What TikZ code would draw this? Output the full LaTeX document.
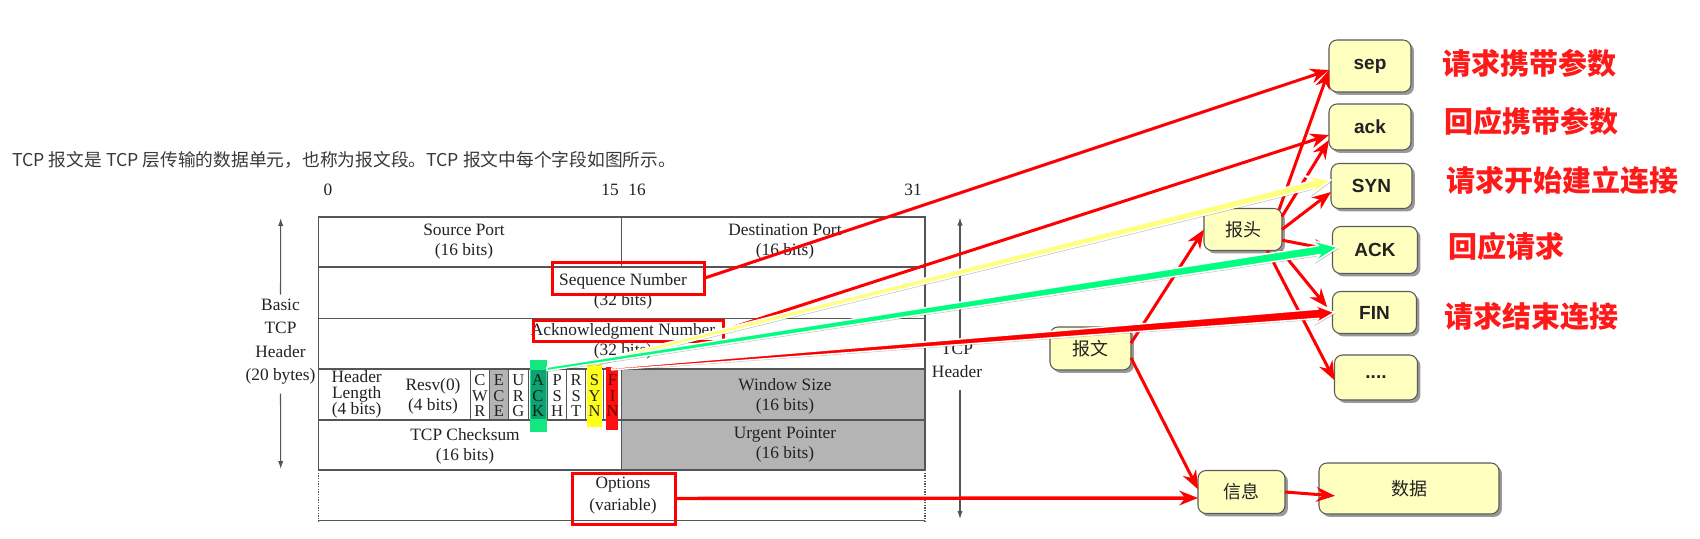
\documentclass[tikz,border=0pt]{standalone}
\usepackage{fontspec}
\setmainfont{Liberation Serif}
\newfontfamily\cjk{Noto Sans CJK SC}
\newfontfamily\arial{Liberation Sans}
\usetikzlibrary{arrows.meta,shadows,calc,fit}

\definecolor{tbl}{HTML}{555555}
\definecolor{cellgray}{HTML}{B4B4B4}
\definecolor{boxfill}{HTML}{FFFFC0}
\definecolor{boxline}{HTML}{5A5A5A}
\definecolor{hlgreen}{HTML}{14E680}
\definecolor{hlteal}{HTML}{0FA078}
\definecolor{hlyellow}{HTML}{FFFF1A}
\definecolor{hlred}{HTML}{FF1010}
\definecolor{arrowyellow}{HTML}{FFFF80}
\definecolor{arrowgreen}{HTML}{00FF80}
\definecolor{txt}{HTML}{222222}
\definecolor{toptxt}{HTML}{3A3A3A}
\definecolor{labred}{HTML}{FF1A1A}

% tapered arrow: start, end, half width start, half width end, head length, join distance, head half width, colour
\newcommand\mytaper[8]{%
  \coordinate (tpS) at (#1);
  \coordinate (tpE) at (#2);
  \coordinate (tpH) at ($(tpE)!#5!(tpS)$);
  \coordinate (tpI) at ($(tpE)!#6!(tpS)$);
  \filldraw[fill=#8, draw=white, line width=1.1pt, line join=round,
    drop shadow={shadow xshift=0.9pt, shadow yshift=-0.9pt, fill=black, opacity=0.22}]
    ($(tpS)!#3!90:(tpE)$) -- ($(tpI)!#4!-90:(tpS)$) -- ($(tpH)!#7!-90:(tpS)$) -- (tpE)
    -- ($(tpH)!#7!90:(tpS)$) -- ($(tpI)!#4!90:(tpS)$) -- ($(tpS)!#3!-90:(tpE)$) -- cycle;
}

\begin{document}
\begin{tikzpicture}[x=0.75pt,y=-0.75pt,
  tline/.style={draw=tbl, line width=1pt},
  tt/.style={inner sep=0pt, text=txt, align=center, font=\fontsize{13}{15}\selectfont},
  flag/.style={inner sep=0pt, text=txt, align=center, font=\fontsize{12.4}{11.6}\selectfont},
  hl/.style={inner sep=0pt, outer sep=0pt},
  redbox/.style={draw=red, line width=2.25pt, inner sep=0pt, outer sep=0pt},
  ybox/.style={draw=boxline, fill=boxfill, rounded corners=6pt, line width=0.8pt, inner sep=0pt, outer sep=0pt, text=txt,
    drop shadow={shadow xshift=2.2pt, shadow yshift=-2.2pt, fill=black, opacity=0.4}},
  eng/.style={font=\arial\bfseries\fontsize{14.25}{16}\selectfont},
  zh/.style={font=\cjk\fontsize{13.5}{16}\selectfont},
  lab/.style={anchor=west, inner sep=0pt, text=labred, font=\cjk\bfseries\fontsize{21.75}{24}\selectfont},
  rarr/.style={draw=red, line width=2.25pt, -{Stealth[length=14pt,width=11pt,inset=4.5pt]}},
  garr/.style={draw=tbl, line width=0.8pt, -{Latex[length=6pt,width=4pt]}},
]
\fill[white] (0,0) rectangle (1700,539);
\useasboundingbox (0,0) rectangle (1700,539);

% intro text
\node[anchor=west, inner sep=0pt, text=toptxt, font=\cjk\fontsize{13.3}{16}\selectfont] (intro) at (12,160)
  {TCP 报文是 TCP 层传输的数据单元，也称为报文段。TCP 报文中每个字段如图所示。};

% bit numbers
\node[tt] (n0) at (328,190) {0};
\node[tt] (n15) at (610,190) {15};
\node[tt] (n16) at (637,190) {16};
\node[tt] (n31) at (913,190) {31};

% table fills
\fill[cellgray] (621.7,369) rectangle (925,470);
\fill[cellgray] (489.4,369) rectangle (508.3,420);

% table lines
\draw[tline] (318.3,217) rectangle (925,470);
\foreach \yy in {267,318.3,369,420} \draw[tline] (318.3,\yy) -- (925,\yy);
\draw[tline] (621.7,217) -- (621.7,267);
\draw[tline] (621.7,369) -- (621.7,470);
\foreach \xx in {470.7,489.4,508.3,528.3,547.7,566.7,585.7,603.3} \draw[tline] (\xx,369) -- (\xx,420);
\draw[tline, densely dotted] (318.3,470) -- (318.3,520.7);
\draw[tline, densely dotted] (925,470) -- (925,520.7);
\draw[tline] (318.3,520.7) -- (925,520.7);

% flag highlights
\node[hl, fill=hlgreen, fit={(529.5,360) (547,432)}] (hlack) {};
\fill[hlteal] (530.6,369.8) rectangle (545.9,419.4);
\node[hl, fill=hlyellow, fit={(587.3,363) (601.7,427)}] (hlsyn) {};
\node[hl, fill=hlred, fit={(605.7,367) (617.7,430)}] (hlfin) {};

% table texts
\node[tt] (srcport) at (464,242) {Source Port\\(16 bits)};
\node[tt] (dstport) at (785,242) {Destination Port\\(16 bits)};
\node[tt] (seqnum) at (623,291.7) {Sequence Number\\(32 bits)};
\node[tt] (acknum) at (623,341.5) {Acknowledgment Number\\(32 bits)};
\node[tt, font=\fontsize{13}{12}\selectfont] (hlen) at (356.7,394) {Header\\Length\\(4 bits)};
\node[tt] (resv) at (433,396.7) {Resv(0)\\(4 bits)};
\node[flag] (fcwr) at (480,395.7) {C\\W\\R};
\node[flag] (fece) at (498.9,395.7) {E\\C\\E};
\node[flag] (furg) at (518.3,395.7) {U\\R\\G};
\node[flag, text=black!85!green] (fack) at (538,395.7) {A\\C\\K};
\node[flag] (fpsh) at (557.2,395.7) {P\\S\\H};
\node[flag] (frst) at (576.2,395.7) {R\\S\\T};
\node[flag] (fsyn) at (594.5,395.7) {S\\Y\\N};
\node[flag, text=black!60!red] (ffin) at (612.5,395.7) {F\\I\\N};
\node[tt] (wsize) at (785,396) {Window Size\\(16 bits)};
\node[tt] (chk) at (465,446.4) {TCP Checksum\\(16 bits)};
\node[tt] (urg) at (785,445) {Urgent Pointer\\(16 bits)};
\node[tt, font=\fontsize{13}{16.5}\selectfont] (opts) at (623,495.4) {Options\\(variable)};

% side labels and arrows
\node[tt, font=\fontsize{13}{17.5}\selectfont] (basic) at (280.5,341.5) {Basic\\TCP\\Header\\(20 bytes)};
\coordinate (ltop) at (280.7,218);
\coordinate (lbot) at (280.7,469);
\draw[garr] ([yshift=3pt]basic.north) -- (ltop);
\draw[garr] ([yshift=-7pt]basic.south) -- (lbot);
\node[tt, font=\fontsize{13}{17}\selectfont] (tcph) at (957,360.5) {TCP\\Header};
\coordinate (rtop) at (960,217.5);
\coordinate (rbot) at (960,519);
\draw[garr] ([xshift=2.25pt,yshift=2pt]tcph.north) -- (rtop);
\draw[garr] ([xshift=2.25pt,yshift=-9pt]tcph.south) -- (rbot);

% red frames
\node[redbox, fit={(552,262.5) (704,294)}] (seqbox) {};
\node[redbox, fit={(533,320) (723,341)}] (ackbox) {};
\node[redbox, fit={(572,473) (675,524)}] (optbox) {};

% right side boxes
\node[ybox, eng, minimum width=61.5pt, minimum height=39pt] (sep) at (1370,66) {sep};
\node[ybox, eng, minimum width=61.5pt, minimum height=34.5pt] (ack) at (1370,127) {ack};
\node[ybox, eng, minimum width=60.75pt, minimum height=33.75pt] (syn) at (1371.5,186) {SYN};
\node[ybox, eng, minimum width=63.75pt, minimum height=35.25pt] (ACKb) at (1375,250) {ACK};
\node[ybox, eng, minimum width=63pt, minimum height=31.5pt] (fin) at (1374.5,312.5) {FIN};
\node[ybox, eng, minimum width=62.25pt, minimum height=33.75pt] (dots) at (1376,377.5) {....};
\node[ybox, zh, minimum width=58.5pt, minimum height=31.5pt] (baotou) at (1243,229.5) {报头};
\node[ybox, zh, minimum width=60.75pt, minimum height=32.25pt] (baowen) at (1090.5,348.5) {报文};
\node[ybox, zh, minimum width=65.25pt, minimum height=32.25pt] (xinxi) at (1241.5,492) {信息};
\node[ybox, zh, minimum width=135pt, minimum height=38.25pt] (shuju) at (1409,488.5) {数据};

% red labels
\node[lab] (l1) at (1442,63.3) {请求携带参数};
\node[lab] (l2) at (1444,121.7) {回应携带参数};
\node[lab] (l3) at (1446,180) {请求开始建立连接};
\node[lab] (l4) at (1448.6,246.7) {回应请求};
\node[lab] (l5) at (1444,316.7) {请求结束连接};

% thin red connectors
\draw[rarr] (seqbox.east) -- ([yshift=-3pt]sep.west);
\draw[rarr] (ackbox.east) -- ([yshift=-6pt]ack.west);
\draw[rarr] ([xshift=-2.25pt,yshift=-1pt]baotou.north east) -- ([yshift=-3pt]sep.west);
\draw[rarr] ([yshift=-6pt]baotou.north east) -- ([yshift=-9.75pt]ack.west);
\draw[rarr] (baotou.east) -- ([yshift=-4.5pt]syn.west);
\draw[rarr] ([yshift=-8pt]baotou.east) -- (ACKb.west);
\draw[rarr] ([xshift=-1pt]baotou.south east) -- ([xshift=-4pt,yshift=4pt]fin.west);
\draw[rarr] ([xshift=-11pt]baotou.south east) -- ([yshift=-2pt]dots.west);
\draw[rarr] ([yshift=4pt]baowen.east) -- (baotou.west);
\draw[rarr] ([yshift=-7pt]baowen.east) -- ([yshift=2pt]xinxi.west);
\draw[rarr, line width=2.6pt] (optbox.east) -- ([yshift=-4.5pt]xinxi.west);
\draw[rarr] (xinxi.east) -- ([xshift=12pt,yshift=-5.5pt]shuju.west);

% thick highlighted connectors
\mytaper{hlsyn.north}{[yshift=4.5pt]syn.west}{1.4pt}{2.8pt}{19pt}{13pt}{8pt}{arrowyellow}
\mytaper{[yshift=-6.75pt]hlack.north east}{[xshift=4pt,yshift=2pt]ACKb.west}{1.3pt}{3.4pt}{20pt}{14pt}{8.8pt}{arrowgreen}
\mytaper{[yshift=-1.5pt]hlfin.north}{[xshift=1.5pt]fin.west}{0.7pt}{3.5pt}{17pt}{12pt}{8pt}{red}
\end{tikzpicture}
\end{document}
